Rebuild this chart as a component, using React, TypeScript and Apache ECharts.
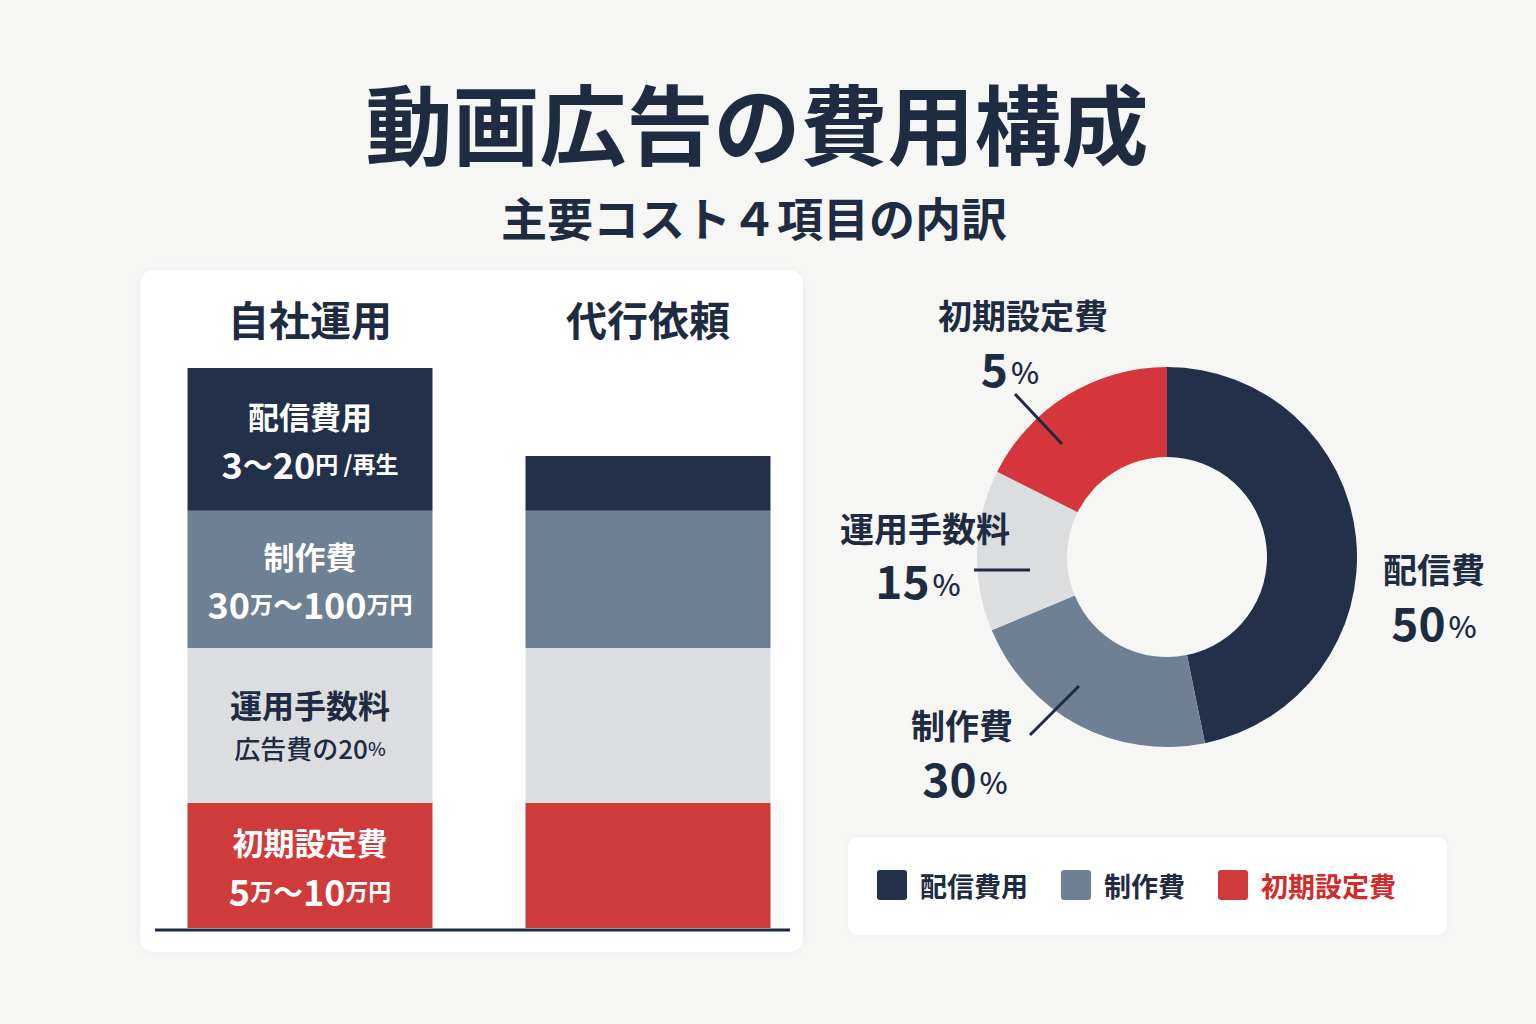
import React, { useEffect, useRef } from "react";
import * as echarts from "echarts";

// ---- data ----
const categories = ["自社運用", "代行依頼"];
const barSeriesNames = ["初期設定費", "運用手数料", "制作費", "配信費用"]; // bottom -> top
const barInitial = [22.3, 22.3];
const barOperation = [27.7, 27.7];
const barProduction = [24.5, 24.5];
const barDelivery = [25.5, 9.8];
const barNotes = ["5万～10万円", "広告費の20%", "30万～100万円", "3～20円 /再生"];

const pieNames = ["配信費", "制作費", "運用手数料", "初期設定費"];
const pieValues = [46.8, 21.9, 13.7, 17.6]; // drawn slice sizes
const pieLabels = ["50", "30", "15", "5"]; // printed percentages

const legendNames = ["配信費用", "制作費", "初期設定費"];

const titleText = "動画広告の費用構成";
const subtitleText = "主要コスト４項目の内訳";

// ---- style ----
const NAVY = "#22304a";
const SLATE = "#6e8093";
const LIGHT = "#dcdddf";
const RED = "#cf3a3a";
const PIE_RED = "#d5363b";
const TEXT = "#1f2b40";
const FONT = "'Noto Sans CJK JP', 'Noto Sans', sans-serif";

const barColors = [RED, LIGHT, SLATE, NAVY];
const pieColors = [NAVY, SLATE, LIGHT, PIE_RED];

function richLine(str: string, big: string, small: string, tilde: string) {
  return str
    .split(/(\d+|～)/)
    .filter((s) => s.length > 0)
    .map((s) => {
      if (/^\d+$/.test(s)) return `{${big}|${s}}`;
      if (s === "～") return `{${tilde}|${s}}`;
      return `{${small}|${s}}`;
    })
    .join("");
}

export default function App() {
  const ref = useRef<HTMLDivElement>(null);

  useEffect(() => {
    if (!ref.current) return;
    const chart = echarts.init(ref.current, undefined, { renderer: "svg" });

    const barData = [barInitial, barOperation, barProduction, barDelivery];

    const whiteRich = {
      t: { fontSize: 31, fontWeight: "bold", color: "#fff", fontFamily: FONT, lineHeight: 48 },
      big: { fontSize: 36, fontWeight: "bold", color: "#fff", fontFamily: FONT, lineHeight: 48 },
      sm: { fontSize: 23, fontWeight: "bold", color: "#fff", fontFamily: FONT, lineHeight: 48 },
      ti: { fontSize: 30, fontWeight: "bold", color: "#fff", fontFamily: FONT, lineHeight: 48 },
    };
    const navyRich = {
      t: { fontSize: 32, fontWeight: "bold", color: TEXT, fontFamily: FONT, lineHeight: 44 },
      sm: { fontSize: 26, fontWeight: 500, color: TEXT, fontFamily: FONT, lineHeight: 44 },
    };

    const barSeries = barSeriesNames.map((name, i) => {
      const isLight = i === 1;
      const rich = isLight ? navyRich : whiteRich;
      const noteRich = isLight
        ? barNotes[i]
            .split(/(%)/)
            .filter((s) => s)
            .map((s) => (s === "%" ? "{pc|%}" : `{sm|${s}}`))
            .join("")
        : richLine(barNotes[i], "big", "sm", "ti");
      return {
        type: "bar",
        name,
        stack: "cost",
        barWidth: 245,
        itemStyle: { color: barColors[i] },
        emphasis: { disabled: true },
        data: barData[i].map((v, j) => ({
          value: v,
          label:
            j === 0
              ? {
                  show: true,
                  position: "inside",
                  formatter: `{t|${name}}\n${noteRich}`,
                  rich: {
                    ...rich,
                    pc: { fontSize: 19, fontWeight: 500, color: TEXT, fontFamily: FONT, lineHeight: 44 },
                  },
                }
              : { show: false },
        })),
      };
    });

    const pieLayout = [
      { nx: 1434, ny: 568, px: 1434, py: 621, line: null },
      { nx: 962, ny: 724, px: 965, py: 777, line: [1030, 735, 1079, 686] },
      { nx: 925, ny: 527, px: 918, py: 579, line: [974, 570, 1030, 570] },
      { nx: 1023, ny: 314, px: 1010, py: 367, line: [1015, 394, 1062, 444] },
    ];

    const pieGraphics: any[] = [];
    pieNames.forEach((n, i) => {
      const L = pieLayout[i];
      pieGraphics.push({
        type: "text",
        x: L.nx,
        y: L.ny,
        z: 10,
        style: {
          text: n,
          fill: TEXT,
          font: `bold 34px ${FONT}`,
          textAlign: "center",
          textVerticalAlign: "middle",
        },
      });
      pieGraphics.push({
        type: "text",
        x: L.px,
        y: L.py,
        z: 10,
        style: {
          text: `{d|${pieLabels[i]}}{p|%}`,
          textAlign: "center",
          textVerticalAlign: "middle",
          rich: {
            d: { fontSize: 46, fontWeight: "bold", fill: TEXT, fontFamily: FONT, lineHeight: 40 },
            p: { fontSize: 30, fontWeight: 500, fill: TEXT, fontFamily: FONT, lineHeight: 40, padding: [8, 0, 0, 3] },
          },
        },
      });
      if (L.line) {
        pieGraphics.push({
          type: "line",
          z: 10,
          shape: { x1: L.line[0], y1: L.line[1], x2: L.line[2], y2: L.line[3] },
          style: { stroke: TEXT, lineWidth: 3 },
        });
      }
    });

    chart.setOption({
      animation: false,
      backgroundColor: "#f6f6f4",
      grid: { left: 141, top: 368, width: 676, bottom: 96 },
      xAxis: {
        type: "category",
        data: categories,
        position: "top",
        axisLine: { show: false },
        axisTick: { show: false },
        axisLabel: {
          fontSize: 41,
          fontWeight: "bold",
          color: TEXT,
          fontFamily: FONT,
          margin: 30,
        },
      },
      yAxis: { type: "value", min: 0, max: 100, show: false },
      legend: {
        data: legendNames.map((n, i) => ({
          name: n,
          textStyle: i === 2 ? { color: "#d42a2a" } : { color: TEXT },
        })),
        left: 872,
        top: 865,
        icon: "path://M3,0 L27,0 Q30,0 30,3 L30,27 Q30,30 27,30 L3,30 Q0,30 0,27 L0,3 Q0,0 3,0 Z",
        itemWidth: 30,
        itemHeight: 30,
        itemGap: 33,
        selectedMode: false,
        textStyle: {
          fontSize: 27,
          fontWeight: "bold",
          fontFamily: FONT,
          color: TEXT,
          padding: [0, 0, 0, 8],
        },
      },
      graphic: [
        {
          type: "rect",
          z: 0,
          shape: { x: 140, y: 270, width: 663, height: 682, r: 14 },
          style: { fill: "#ffffff", shadowColor: "rgba(0,0,0,0.04)", shadowBlur: 8 },
        },
        {
          type: "rect",
          z: 0,
          shape: { x: 848, y: 837, width: 599, height: 98, r: 10 },
          style: { fill: "#ffffff", shadowColor: "rgba(0,0,0,0.03)", shadowBlur: 6 },
        },
        {
          type: "text",
          x: 757,
          y: 121,
          z: 10,
          style: {
            text: titleText,
            fill: TEXT,
            font: `bold 87px ${FONT}`,
            textAlign: "center",
            textVerticalAlign: "middle",
          },
        },
        {
          type: "text",
          x: 754,
          y: 216,
          z: 10,
          style: {
            text: subtitleText,
            fill: TEXT,
            font: `bold 46px ${FONT}`,
            textAlign: "center",
            textVerticalAlign: "middle",
          },
        },
        {
          type: "line",
          z: 10,
          shape: { x1: 155, y1: 930, x2: 790, y2: 930 },
          style: { stroke: "#1e2a40", lineWidth: 3 },
        },
        ...pieGraphics,
      ],
      series: [
        ...barSeries,
        {
          type: "pie",
          center: [1167, 557],
          radius: [100, 190],
          startAngle: 90,
          clockwise: true,
          label: { show: false },
          labelLine: { show: false },
          emphasis: { disabled: true },
          data: pieNames.map((n, i) => ({
            name: n,
            value: pieValues[i],
            itemStyle: { color: pieColors[i] },
          })),
        },
      ],
    });

    return () => chart.dispose();
  }, []);

  return (
    <div
      ref={ref}
      style={{ position: "fixed", left: 0, top: 0, width: 1536, height: 1024 }}
    />
  );
}
